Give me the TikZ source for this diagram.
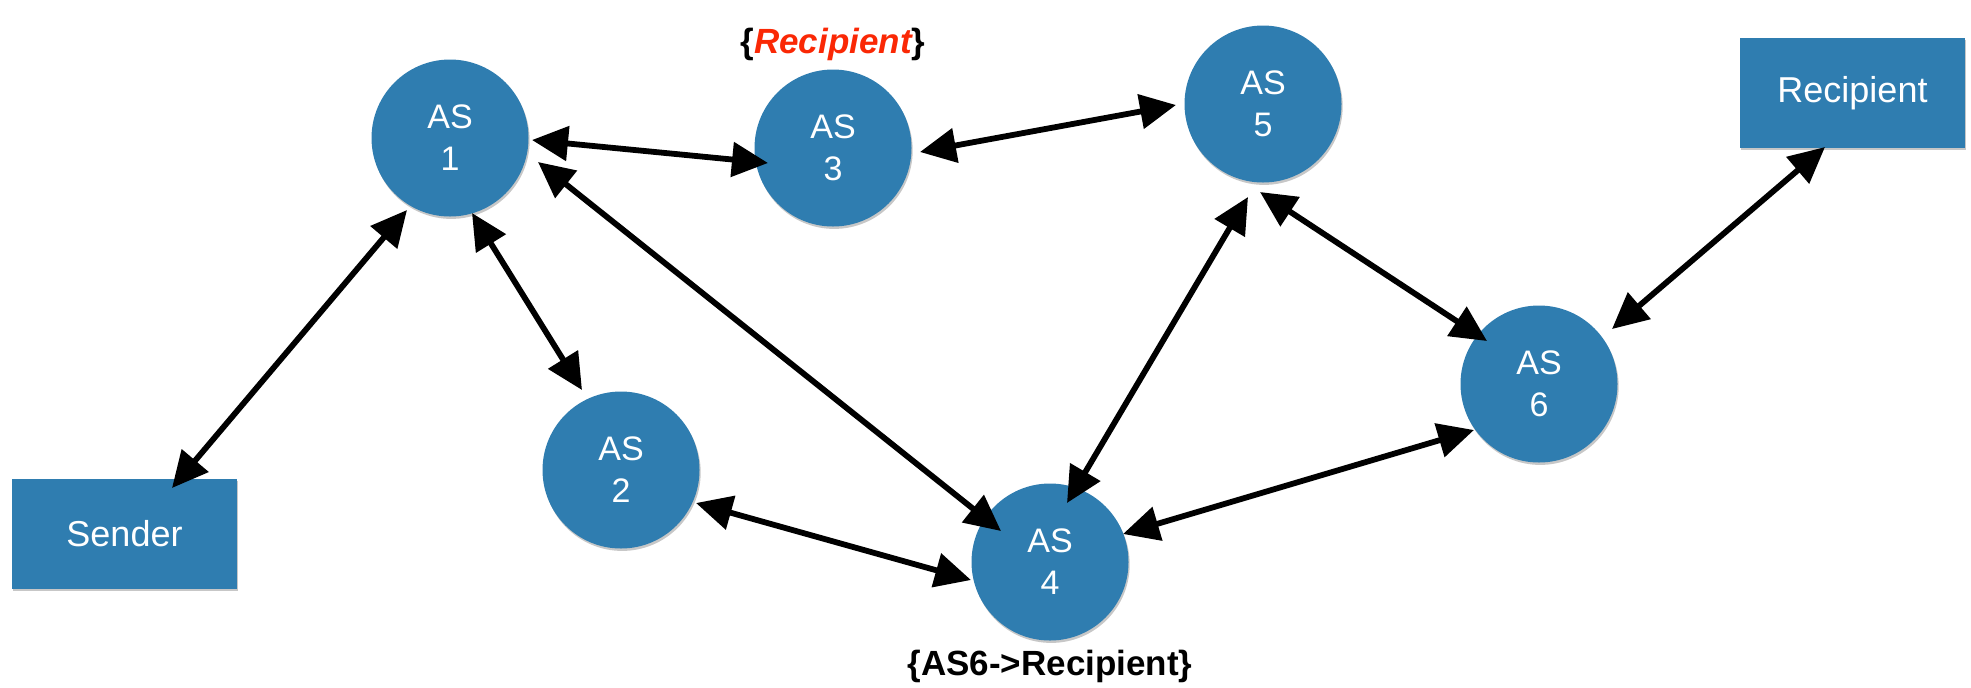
\documentclass[tikz,border=0pt]{standalone}
\usepackage{fontspec}
\setmainfont{Liberation Sans}
\usetikzlibrary{arrows.meta,calc,shadows}

\definecolor{asblue}{RGB}{47,125,176}
\definecolor{tagred}{RGB}{250,40,5}

\tikzset{
  softshadow/.style={drop shadow={shadow xshift=0.6pt, shadow yshift=-1.2pt, opacity=0.22, fill=black}},
  asnode/.style={circle, fill=asblue, minimum size=78.5pt, inner sep=0pt,
    text=white, align=center, font=\fontsize{17}{21}\selectfont, softshadow},
  hostbox/.style={rectangle, fill=asblue, minimum width=112.5pt, minimum height=55pt,
    inner sep=0pt, text=white, font=\fontsize{18}{22}\selectfont, softshadow},
  tag/.style={anchor=base, font=\fontsize{17.5}{21}\selectfont\bfseries},
  link/.style={line width=2.9pt, black, line cap=round,
    {Triangle[length=18pt,width=17pt]}-{Triangle[length=18pt,width=17pt]}}
}

\begin{document}
\begin{tikzpicture}[x=0.5pt,y=-0.5pt]
  \useasboundingbox (0,0) rectangle (1971,687);

  % autonomous systems
  \node[asnode] (AS1) at (450,138) {AS\\1};
  \node[asnode] (AS2) at (621,470) {AS\\2};
  \node[asnode] (AS3) at (833,148) {AS\\3};
  \node[asnode] (AS4) at (1050,562) {AS\\4};
  \node[asnode] (AS5) at (1263,104) {AS\\5};
  \node[asnode] (AS6) at (1539,384) {AS\\6};

  % end hosts
  \node[hostbox] (S) at (124.5,534) {Sender};
  \node[hostbox] (R) at (1852.5,93) {Recipient};

  % annotations
  \node[tag] (t3) at (833,53) {\{\textcolor{tagred}{\itshape Recipient}\}};
  \node[tag] (t4) at (1050,675) {\{AS6->Recipient\}};

  % links
  \draw[link] ($(S)+(47.5,-46)$) -- ($(AS1)+(-43,72)$);
  \draw[link] ($(AS1)+(82,2)$) -- ($(AS3)+(-65,15)$);
  \draw[link] ($(AS1)+(22,75)$) -- ($(AS2)+(-39,-80)$);
  \draw[link] ($(AS1)+(88,24)$) -- ($(AS4)+(-49,-31)$);
  \draw[link] ($(AS3)+(87,4)$) -- ($(AS5)+(-87,1)$);
  \draw[link] ($(AS2)+(75,33)$) -- ($(AS4)+(-79,18)$);
  \draw[link] ($(AS5)+(-15,93)$) -- ($(AS4)+(17,-59)$);
  \draw[link] ($(AS5)+(-3,88)$) -- ($(AS6)+(-52,-43)$);
  \draw[link] ($(AS4)+(73,-28)$) -- ($(AS6)+(-65,46)$);
  \draw[link] ($(AS6)+(73,-55)$) -- ($(R)+(-27.5,54)$);
\end{tikzpicture}
\end{document}
